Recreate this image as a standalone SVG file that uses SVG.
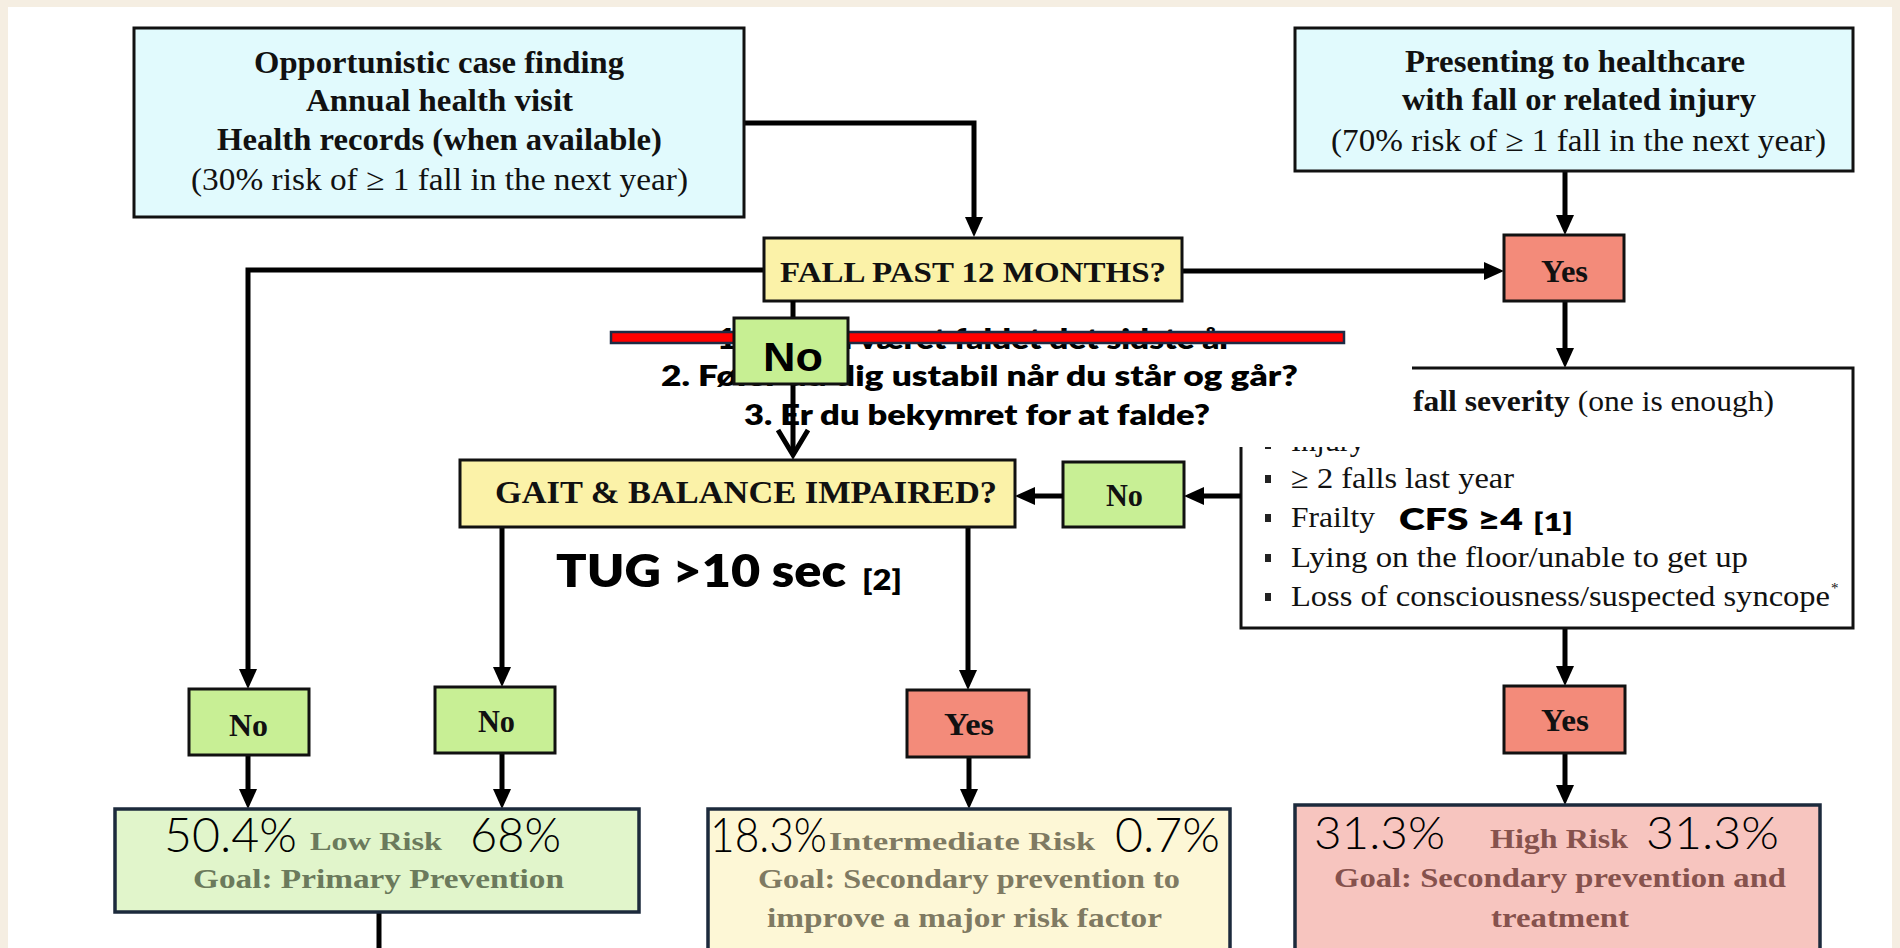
<svg xmlns="http://www.w3.org/2000/svg" width="1900" height="948" viewBox="0 0 1900 948">
<defs>
<style>
.box{stroke:#111;stroke-width:3}
.cyan{fill:#e1fafd}
.yel{fill:#fbf2a8}
.red{fill:#f38b7a}
.grn{fill:#c8ef95}
.tb{font-family:"Liberation Serif","Times New Roman",serif;font-weight:bold;fill:#111}
.tr{font-family:"Liberation Serif","Times New Roman",serif;fill:#111}
.conn{fill:none;stroke:#000;stroke-width:5}
.sans{font-family:Lato,"Open Sans",sans-serif;font-weight:800;fill:#000}
.pct{font-family:Lato,"Open Sans",sans-serif;font-weight:300;fill:#000}
.rbox{stroke:#1c2a3c;stroke-width:3.5}
.bul{fill:#222}
</style>
<marker id="ah" markerUnits="userSpaceOnUse" markerWidth="22" markerHeight="20" refX="4" refY="9" orient="auto">
<path d="M0,0 L20,9 L0,18 z" fill="#000"/>
</marker>
</defs>
<rect width="1900" height="948" fill="#f5eee2"/>
<rect x="8" y="7" width="1884" height="941" fill="#fff"/>

<g id="connectors">
<path class="conn" d="M744,123 H974 V221" marker-end="url(#ah)"/>
<path class="conn" d="M764,270 H248 V673" marker-end="url(#ah)"/>
<path class="conn" d="M1182,271 H1488" marker-end="url(#ah)"/>
<path class="conn" d="M1565,171 V219" marker-end="url(#ah)"/>
<path class="conn" d="M1565,301 V352" marker-end="url(#ah)"/>
<path class="conn" d="M502,527 V671" marker-end="url(#ah)"/>
<path class="conn" d="M968,527 V674" marker-end="url(#ah)"/>
<path class="conn" d="M1565,628 V670" marker-end="url(#ah)"/>
<path class="conn" d="M248,755 V793" marker-end="url(#ah)"/>
<path class="conn" d="M502,753 V793" marker-end="url(#ah)"/>
<path class="conn" d="M969,757 V793" marker-end="url(#ah)"/>
<path class="conn" d="M1565,753 V789" marker-end="url(#ah)"/>
<path class="conn" d="M379,912 V948"/>
</g>

<g id="box-opportunistic">
<rect class="box cyan" x="134" y="28" width="610" height="189"/>
<text class="tb" x="254" y="73" font-size="31" textLength="370" lengthAdjust="spacingAndGlyphs">Opportunistic case finding</text>
<text class="tb" x="306" y="111" font-size="31" textLength="267" lengthAdjust="spacingAndGlyphs">Annual health visit</text>
<text class="tb" x="217" y="150" font-size="31" textLength="445" lengthAdjust="spacingAndGlyphs">Health records (when available)</text>
<text class="tr" x="191" y="190" font-size="31" textLength="497" lengthAdjust="spacingAndGlyphs">(30% risk of ≥ 1 fall in the next year)</text>
</g>

<g id="box-presenting">
<rect class="box cyan" x="1295" y="28" width="558" height="143"/>
<text class="tb" x="1405" y="72" font-size="31" textLength="340" lengthAdjust="spacingAndGlyphs">Presenting to healthcare</text>
<text class="tb" x="1402" y="110" font-size="31" textLength="354" lengthAdjust="spacingAndGlyphs">with fall or related injury</text>
<text class="tr" x="1331" y="151" font-size="31" textLength="495" lengthAdjust="spacingAndGlyphs">(70% risk of ≥ 1 fall in the next year)</text>
</g>

<g id="box-fall">
<rect class="box yel" x="764" y="238" width="418" height="63"/>
<text class="tb" x="780" y="282" font-size="30" textLength="386" lengthAdjust="spacingAndGlyphs">FALL PAST 12 MONTHS?</text>
</g>

<g id="box-yes-top">
<rect class="box red" x="1504" y="235" width="120" height="66"/>
<text class="tb" x="1541" y="282" font-size="31" textLength="47" lengthAdjust="spacingAndGlyphs">Yes</text>
</g>

<g id="box-severity">
<rect x="1241" y="368" width="612" height="260" fill="#fff" stroke="#111" stroke-width="3"/>
<text class="tr" x="1413" y="411" font-size="30" textLength="361" lengthAdjust="spacingAndGlyphs"><tspan font-weight="bold">fall severity</tspan> (one is enough)</text>
<rect class="bul" x="1265" y="441" width="6" height="8"/>
<text class="tr" x="1291" y="451" font-size="30" textLength="74" lengthAdjust="spacingAndGlyphs">Injury</text>
<rect class="bul" x="1265" y="475" width="6" height="8"/>
<text class="tr" x="1291" y="488" font-size="30" textLength="223" lengthAdjust="spacingAndGlyphs">≥ 2 falls last year</text>
<rect class="bul" x="1265" y="514" width="6" height="8"/>
<text class="tr" x="1291" y="527" font-size="30" textLength="84" lengthAdjust="spacingAndGlyphs">Frailty</text>
<text class="sans" x="1399" y="530" font-size="31" textLength="124" lengthAdjust="spacingAndGlyphs">CFS ≥4</text>
<text class="sans" x="1533" y="531" font-size="24" textLength="40" lengthAdjust="spacingAndGlyphs">[1]</text>
<rect class="bul" x="1265" y="554" width="6" height="8"/>
<text class="tr" x="1291" y="567" font-size="30" textLength="457" lengthAdjust="spacingAndGlyphs">Lying on the floor/unable to get up</text>
<rect class="bul" x="1265" y="593" width="6" height="8"/>
<text class="tr" x="1291" y="606" font-size="30" textLength="539" lengthAdjust="spacingAndGlyphs">Loss of consciousness/suspected syncope</text>
<text class="tr" x="1831" y="593" font-size="15">*</text>
</g>

<g id="overlay-questions">
<rect x="600" y="308" width="812" height="139" fill="#fff"/>
<text class="sans" x="717" y="349" font-size="28" textLength="515" lengthAdjust="spacingAndGlyphs">1. Har du været faldet det sidste år</text>
<text class="sans" x="661" y="386" font-size="28" textLength="637" lengthAdjust="spacingAndGlyphs">2. Føler du dig ustabil når du står og går?</text>
<text class="sans" x="744" y="425" font-size="28" textLength="466" lengthAdjust="spacingAndGlyphs">3. Er du bekymret for at falde?</text>
</g>

<g id="connector-fall-gait">
<path class="conn" d="M793,301 V455"/>
<path class="conn" d="M778,430 L793,455 L808,430"/>
</g>

<g id="strike-bar">
<rect x="611" y="332" width="733" height="11" fill="#ff0000" stroke="#1d2b44" stroke-width="2.5"/>
</g>

<g id="box-no-overlay">
<rect x="734" y="318" width="114" height="66" fill="#c7ef93" stroke="#111" stroke-width="3"/>
<text x="763" y="371" font-family="Liberation Sans, Arial, sans-serif" font-weight="bold" font-size="40" textLength="60" lengthAdjust="spacingAndGlyphs" fill="#000">No</text>
</g>

<g id="box-gait">
<rect class="box yel" x="460" y="460" width="555" height="67"/>
<text class="tb" x="495" y="503" font-size="31" textLength="502" lengthAdjust="spacingAndGlyphs">GAIT &amp; BALANCE IMPAIRED?</text>
</g>

<g id="box-no-mid">
<rect class="box grn" x="1063" y="462" width="121" height="65"/>
<text class="tb" x="1106" y="506" font-size="31" textLength="37" lengthAdjust="spacingAndGlyphs">No</text>
</g>
<g id="connectors-mid">
<path class="conn" d="M1241,496 H1200" marker-end="url(#ah)"/>
<path class="conn" d="M1063,496 H1031" marker-end="url(#ah)"/>
</g>

<g id="tug-label">
<text class="sans" x="556" y="587" font-size="46" textLength="290" lengthAdjust="spacingAndGlyphs">TUG &gt;10 sec</text>
<text class="sans" x="862" y="590" font-size="28" textLength="40" lengthAdjust="spacingAndGlyphs">[2]</text>
</g>

<g id="box-no-1">
<rect class="box grn" x="189" y="689" width="120" height="66"/>
<text class="tb" x="229" y="736" font-size="31" textLength="39" lengthAdjust="spacingAndGlyphs">No</text>
</g>
<g id="box-no-2">
<rect class="box grn" x="435" y="687" width="120" height="66"/>
<text class="tb" x="478" y="732" font-size="31" textLength="37" lengthAdjust="spacingAndGlyphs">No</text>
</g>
<g id="box-yes-mid">
<rect class="box red" x="907" y="690" width="122" height="67"/>
<text class="tb" x="944" y="735" font-size="31" textLength="50" lengthAdjust="spacingAndGlyphs">Yes</text>
</g>
<g id="box-yes-right">
<rect class="box red" x="1504" y="686" width="121" height="67"/>
<text class="tb" x="1541" y="731" font-size="31" textLength="48" lengthAdjust="spacingAndGlyphs">Yes</text>
</g>

<g id="box-low-risk">
<rect class="rbox" x="115" y="809" width="524" height="103" fill="#e1f5cb"/>
<text class="pct" x="164" y="852" font-size="47" textLength="133" lengthAdjust="spacingAndGlyphs">50.4%</text>
<text class="tb" x="310" y="850" font-size="26" textLength="132" lengthAdjust="spacingAndGlyphs" style="fill:#6b7a5c">Low Risk</text>
<text class="pct" x="470" y="852" font-size="47" textLength="91" lengthAdjust="spacingAndGlyphs">68%</text>
<text class="tb" x="193" y="888" font-size="28" textLength="371" lengthAdjust="spacingAndGlyphs" style="fill:#6b7a5c">Goal:  Primary Prevention</text>
</g>

<g id="box-intermediate-risk">
<rect class="rbox" x="708" y="809" width="522" height="150" fill="#fdf7d6"/>
<text class="pct" x="710" y="852" font-size="47" textLength="117" lengthAdjust="spacingAndGlyphs">18.3%</text>
<text class="tb" x="829" y="850" font-size="26" textLength="266" lengthAdjust="spacingAndGlyphs" style="fill:#7f7a62">Intermediate  Risk</text>
<text class="pct" x="1115" y="852" font-size="47" textLength="105" lengthAdjust="spacingAndGlyphs">0.7%</text>
<text class="tb" x="758" y="888" font-size="28" textLength="422" lengthAdjust="spacingAndGlyphs" style="fill:#7f7a62">Goal: Secondary prevention to</text>
<text class="tb" x="767" y="927" font-size="28" textLength="395" lengthAdjust="spacingAndGlyphs" style="fill:#7f7a62">improve a major risk factor</text>
</g>

<g id="box-high-risk">
<rect class="rbox" x="1295" y="805" width="525" height="155" fill="#f7c5bf"/>
<text class="pct" x="1314" y="849" font-size="46" textLength="131" lengthAdjust="spacingAndGlyphs">31.3%</text>
<text class="tb" x="1490" y="848" font-size="27" textLength="138" lengthAdjust="spacingAndGlyphs" style="fill:#86524d">High Risk</text>
<text class="pct" x="1646" y="849" font-size="46" textLength="133" lengthAdjust="spacingAndGlyphs">31.3%</text>
<text class="tb" x="1334" y="887" font-size="28" textLength="452" lengthAdjust="spacingAndGlyphs" style="fill:#86524d">Goal: Secondary prevention and</text>
<text class="tb" x="1491" y="927" font-size="28" textLength="138" lengthAdjust="spacingAndGlyphs" style="fill:#86524d">treatment</text>
</g>
</svg>
